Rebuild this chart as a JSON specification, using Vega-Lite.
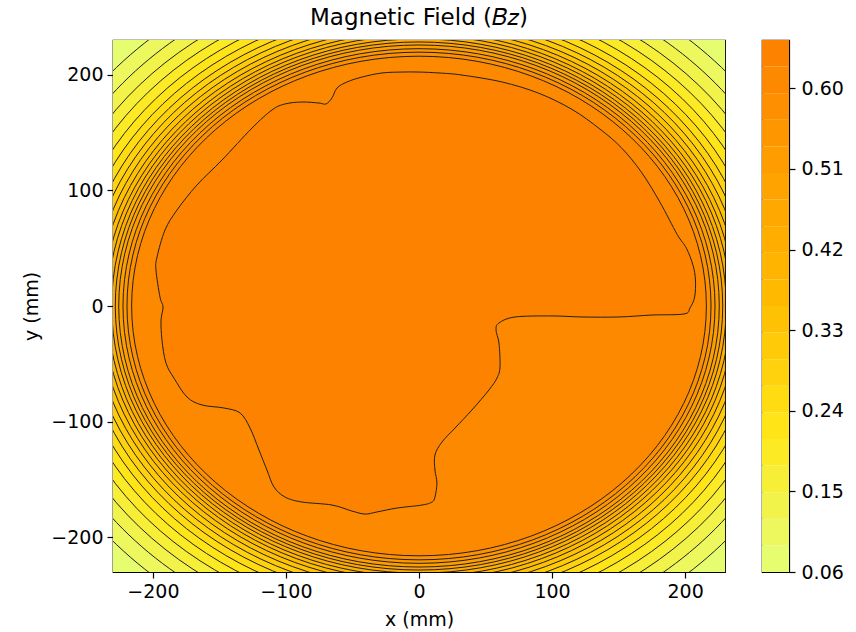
{
  "$schema": "https://vega.github.io/schema/vega-lite/v6.json",
  "background": "white",
  "padding": {"left": 22, "top": 6, "right": 5, "bottom": 5},
  "bounds": "flush",
  "spacing": 37,
  "config": {
    "font": "DejaVu Sans",
    "view": {"stroke": "black", "strokeWidth": 1.2},
    "axis": {"labelFont": "DejaVu Sans", "labelFontSize": 19, "labelColor": "black", "tickColor": "black", "tickSize": 6, "tickWidth": 1.2, "domainColor": "black", "domainWidth": 1.2, "titleFont": "DejaVu Sans", "titleFontSize": 19, "titleFontWeight": "normal", "titleColor": "black", "grid": false, "labelPadding": 4, "titlePadding": 9}
  },
  "datasets": {
    "contours": [
      {"r": 340, "bz": 0.0749},
      {"r": 307, "bz": 0.1046},
      {"r": 294.5, "bz": 0.1343},
      {"r": 284, "bz": 0.1640},
      {"r": 275, "bz": 0.1937},
      {"r": 267, "bz": 0.2234},
      {"r": 260, "bz": 0.2531},
      {"r": 254, "bz": 0.2828},
      {"r": 249, "bz": 0.3125},
      {"r": 244.5, "bz": 0.3422},
      {"r": 240.5, "bz": 0.3719},
      {"r": 237, "bz": 0.4016},
      {"r": 234, "bz": 0.4313},
      {"r": 231, "bz": 0.4610},
      {"r": 228.3, "bz": 0.4907},
      {"r": 225.7, "bz": 0.5204},
      {"r": 222.5, "bz": 0.5501},
      {"r": 219.5, "bz": 0.5798},
      {"r": 216, "bz": 0.6095}
    ],
    "blob": [
      {"i": 1, "x": 0, "y": 202.3},
      {"i": 2, "x": 15.0, "y": 201.5},
      {"i": 3, "x": 32.3, "y": 199.7},
      {"i": 4, "x": 62.4, "y": 193.7},
      {"i": 5, "x": 90.0, "y": 184.0},
      {"i": 6, "x": 115.0, "y": 170.0},
      {"i": 7, "x": 136.0, "y": 153.0},
      {"i": 8, "x": 152.0, "y": 137.0},
      {"i": 9, "x": 167.0, "y": 116.0},
      {"i": 10, "x": 181.0, "y": 90.0},
      {"i": 11, "x": 194.0, "y": 62.0},
      {"i": 12, "x": 201.0, "y": 50.0},
      {"i": 13, "x": 206.0, "y": 35.0},
      {"i": 14, "x": 207.8, "y": 22.5},
      {"i": 15, "x": 207.2, "y": 7.8},
      {"i": 16, "x": 203.7, "y": -1.7},
      {"i": 17, "x": 199.2, "y": -6.9},
      {"i": 18, "x": 175.1, "y": -7.8},
      {"i": 19, "x": 150.3, "y": -9.5},
      {"i": 20, "x": 122.5, "y": -9.5},
      {"i": 21, "x": 100.0, "y": -8.6},
      {"i": 22, "x": 72.2, "y": -9.5},
      {"i": 23, "x": 60.1, "y": -14.7},
      {"i": 24, "x": 57.9, "y": -20.8},
      {"i": 25, "x": 60.1, "y": -32.0},
      {"i": 26, "x": 60.9, "y": -52.7},
      {"i": 27, "x": 58.6, "y": -62.3},
      {"i": 28, "x": 52.6, "y": -72.6},
      {"i": 29, "x": 39.8, "y": -89.9},
      {"i": 30, "x": 27.1, "y": -105.5},
      {"i": 31, "x": 17.3, "y": -117.6},
      {"i": 32, "x": 12.0, "y": -128.8},
      {"i": 33, "x": 12.0, "y": -141.8},
      {"i": 34, "x": 13.5, "y": -153.0},
      {"i": 35, "x": 12.0, "y": -165.2},
      {"i": 36, "x": 9.8, "y": -169.5},
      {"i": 37, "x": 2.3, "y": -172.1},
      {"i": 38, "x": -16.5, "y": -174.7},
      {"i": 39, "x": -31.6, "y": -178.1},
      {"i": 40, "x": -40.6, "y": -179.9},
      {"i": 41, "x": -50.4, "y": -177.3},
      {"i": 42, "x": -65.4, "y": -172.1},
      {"i": 43, "x": -87.9, "y": -169.5},
      {"i": 44, "x": -100.7, "y": -165.2},
      {"i": 45, "x": -109.0, "y": -156.5},
      {"i": 46, "x": -114.3, "y": -141.8},
      {"i": 47, "x": -120.3, "y": -124.5},
      {"i": 48, "x": -127.0, "y": -105.5},
      {"i": 49, "x": -134.5, "y": -92.5},
      {"i": 50, "x": -146.6, "y": -88.2},
      {"i": 51, "x": -163.1, "y": -85.6},
      {"i": 52, "x": -174.4, "y": -78.7},
      {"i": 53, "x": -184.2, "y": -62.3},
      {"i": 54, "x": -190.2, "y": -49.3},
      {"i": 55, "x": -193.2, "y": -29.4},
      {"i": 56, "x": -193.9, "y": -12.1},
      {"i": 57, "x": -192.4, "y": -0.9},
      {"i": 58, "x": -194.7, "y": 7.8},
      {"i": 59, "x": -197.7, "y": 31.1},
      {"i": 60, "x": -196.9, "y": 42.4},
      {"i": 61, "x": -190.9, "y": 65.7},
      {"i": 62, "x": -181.9, "y": 83.0},
      {"i": 63, "x": -166.9, "y": 104.6},
      {"i": 64, "x": -148.1, "y": 126.2},
      {"i": 65, "x": -125.5, "y": 153.9},
      {"i": 66, "x": -110.5, "y": 169.5},
      {"i": 67, "x": -100.7, "y": 174.7},
      {"i": 68, "x": -87.9, "y": 176.4},
      {"i": 69, "x": -75.2, "y": 175.5},
      {"i": 70, "x": -69.9, "y": 174.7},
      {"i": 71, "x": -65.4, "y": 179.9},
      {"i": 72, "x": -61.6, "y": 188.5},
      {"i": 73, "x": -54.1, "y": 193.7},
      {"i": 74, "x": -42.8, "y": 198.0},
      {"i": 75, "x": -27.8, "y": 201.5},
      {"i": 76, "x": -12.8, "y": 202.3}
    ],
    "bands": [
      {"lo": 0.06, "hi": 0.0897, "bz": 0.0749},
      {"lo": 0.0897, "hi": 0.1194, "bz": 0.1046},
      {"lo": 0.1194, "hi": 0.1491, "bz": 0.1343},
      {"lo": 0.1491, "hi": 0.1788, "bz": 0.1640},
      {"lo": 0.1788, "hi": 0.2085, "bz": 0.1937},
      {"lo": 0.2085, "hi": 0.2382, "bz": 0.2234},
      {"lo": 0.2382, "hi": 0.2679, "bz": 0.2531},
      {"lo": 0.2679, "hi": 0.2976, "bz": 0.2828},
      {"lo": 0.2976, "hi": 0.3273, "bz": 0.3125},
      {"lo": 0.3273, "hi": 0.3570, "bz": 0.3422},
      {"lo": 0.3570, "hi": 0.3867, "bz": 0.3719},
      {"lo": 0.3867, "hi": 0.4164, "bz": 0.4016},
      {"lo": 0.4164, "hi": 0.4461, "bz": 0.4313},
      {"lo": 0.4461, "hi": 0.4758, "bz": 0.4610},
      {"lo": 0.4758, "hi": 0.5055, "bz": 0.4907},
      {"lo": 0.5055, "hi": 0.5352, "bz": 0.5204},
      {"lo": 0.5352, "hi": 0.5649, "bz": 0.5501},
      {"lo": 0.5649, "hi": 0.5946, "bz": 0.5798},
      {"lo": 0.5946, "hi": 0.6243, "bz": 0.6095},
      {"lo": 0.6243, "hi": 0.6540, "bz": 0.6392}
    ]
  },
  "resolve": {"scale": {"x": "independent", "y": "independent"}},
  "hconcat": [
    {
      "width": 612,
      "height": 532,
      "title": {"text": "Magnetic Field (𝐵𝑧)", "fontSize": 23, "font": "DejaVu Sans", "fontWeight": "normal", "color": "black", "offset": 10},
      "layer": [
        {
          "data": {"name": "contours"},
          "mark": {"type": "point", "shape": "M-1,0A1,0.8693,0,1,1,1,0A1,0.8693,0,1,1,-1,0Z", "filled": true, "opacity": 1, "fillOpacity": 1, "stroke": "#202020", "strokeWidth": 1, "clip": true},
          "encoding": {
            "x": {"datum": 0, "type": "quantitative", "title": "x (mm)", "scale": {"domain": [-230, 230], "nice": false, "zero": false}, "axis": {"values": [-200, -100, 0, 100, 200]}},
            "y": {"datum": 0, "type": "quantitative", "title": "y (mm)", "scale": {"domain": [-230, 230], "nice": false, "zero": false}, "axis": {"values": [-200, -100, 0, 100, 200]}},
            "size": {"field": "r", "type": "quantitative", "scale": {"type": "pow", "exponent": 2, "domain": [0, 400], "range": [0, 1132770]}, "legend": null},
            "color": {"field": "bz", "type": "quantitative", "scale": {"domain": [0.06, 0.654], "range": ["#e4ff7a", "#ffe81a", "#ffbd00", "#ffa000", "#fc7f00"], "interpolate": "rgb"}, "legend": null},
            "order": {"field": "r", "sort": "descending"}
          }
        },
        {
          "data": {"name": "blob"},
          "mark": {"type": "line", "interpolate": "cardinal-closed", "fill": "#fc8200", "stroke": "#202020", "strokeWidth": 1, "clip": true},
          "encoding": {
            "x": {"field": "x", "type": "quantitative", "title": "x (mm)"},
            "y": {"field": "y", "type": "quantitative", "title": "y (mm)"},
            "order": {"field": "i"}
          }
        }
      ]
    },
    {
      "width": 27,
      "height": 532,
      "data": {"name": "bands"},
      "mark": {"type": "rect"},
      "encoding": {
        "y": {"field": "lo", "type": "quantitative", "scale": {"domain": [0.06, 0.654], "nice": false, "zero": false}, "axis": {"orient": "right", "values": [0.06, 0.15, 0.24, 0.33, 0.42, 0.51, 0.60], "format": ".2f", "title": null, "labelPadding": 6}},
        "y2": {"field": "hi"},
        "color": {"field": "bz", "type": "quantitative", "scale": {"domain": [0.06, 0.654], "range": ["#e4ff7a", "#ffe81a", "#ffbd00", "#ffa000", "#fc7f00"], "interpolate": "rgb"}, "legend": null}
      }
    }
  ]
}
